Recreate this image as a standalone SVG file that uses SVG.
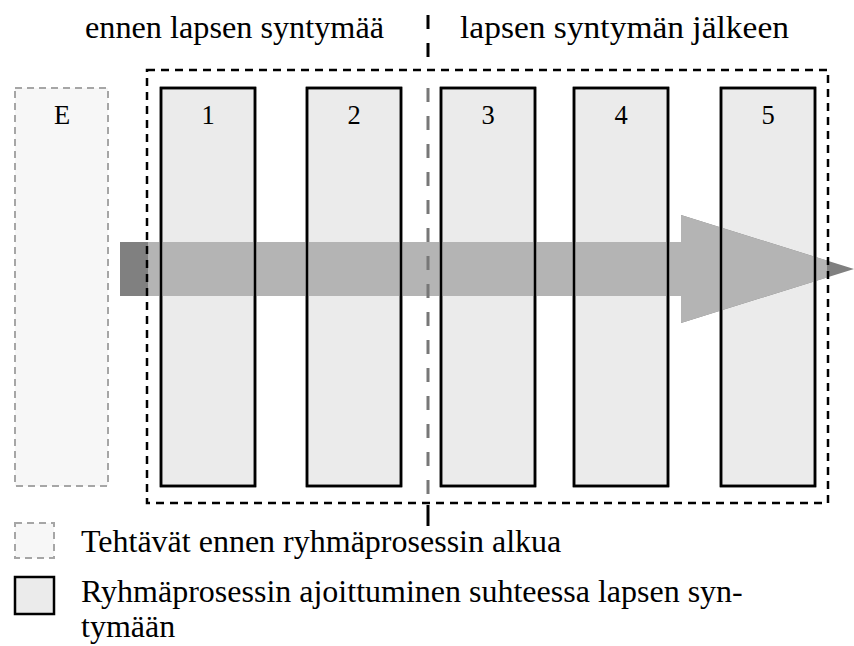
<svg xmlns="http://www.w3.org/2000/svg" width="854" height="646" viewBox="0 0 854 646">
<style>
.t{font-family:"Liberation Serif","Times New Roman",serif;fill:#000}
.hdr{font-size:32.5px}
.num{font-size:26.5px;text-anchor:middle}
.leg{font-size:32px}
.phase{fill:#ebebeb;stroke:#000;stroke-width:2.5}
.pre{fill:#f7f7f7;stroke:#a6a6a6;stroke-width:2;stroke-dasharray:7,5}
</style>
<defs>
<clipPath id="inner"><rect x="148" y="71" width="679" height="431"/></clipPath>
</defs>
<rect width="854" height="646" fill="#fff"/>
<g font-family="Liberation Serif, Times New Roman, serif">
<text class="t hdr" x="85" y="38" textLength="299" lengthAdjust="spacingAndGlyphs">ennen lapsen syntymää</text>
<text class="t hdr" x="460" y="38" textLength="329" lengthAdjust="spacingAndGlyphs">lapsen syntymän jälkeen</text>
</g>
<g id="node-E" font-family="Liberation Serif, Times New Roman, serif"><rect class="pre" x="15" y="88" width="93" height="398"/><text class="t num" x="62" y="124">E</text></g>
<g id="node-1" font-family="Liberation Serif, Times New Roman, serif"><rect class="phase" x="161" y="88" width="94" height="398"/><text class="t num" x="208" y="124">1</text></g>
<g id="node-2" font-family="Liberation Serif, Times New Roman, serif"><rect class="phase" x="307" y="88" width="94" height="398"/><text class="t num" x="354" y="124">2</text></g>
<g id="node-3" font-family="Liberation Serif, Times New Roman, serif"><rect class="phase" x="441" y="88" width="94" height="398"/><text class="t num" x="488" y="124">3</text></g>
<g id="node-4" font-family="Liberation Serif, Times New Roman, serif"><rect class="phase" x="574" y="88" width="94" height="398"/><text class="t num" x="621" y="124">4</text></g>
<g id="node-5" font-family="Liberation Serif, Times New Roman, serif"><rect class="phase" x="721" y="88" width="94" height="398"/><text class="t num" x="768" y="124">5</text></g>
<g id="connectors">
<polygon points="120,242 681,242 681,215 854,269 681,323 681,296 120,296" fill="#808080"/>
<polygon points="120,242 681,242 681,215 854,269 681,323 681,296 120,296" fill="#b4b4b4" clip-path="url(#inner)"/>
<g fill="none" stroke="#000" stroke-width="2.5">
<rect x="161" y="88" width="94" height="398"/><rect x="307" y="88" width="94" height="398"/><rect x="441" y="88" width="94" height="398"/><rect x="574" y="88" width="94" height="398"/><rect x="721" y="88" width="94" height="398"/>
</g>
<rect x="147" y="70" width="681" height="433" fill="none" stroke="#000" stroke-width="2.5" stroke-dasharray="8,6"/>
<line x1="428" y1="15" x2="428" y2="70" stroke="#000" stroke-width="3" stroke-dasharray="14,14"/>
<line x1="428" y1="88" x2="428" y2="502" stroke="#777" stroke-width="3" stroke-dasharray="14,14"/>
<line x1="428" y1="505" x2="428" y2="526" stroke="#000" stroke-width="3"/>
</g>
<g id="legend" font-family="Liberation Serif, Times New Roman, serif">
<rect class="pre" x="15" y="523" width="39" height="35"/>
<rect class="phase" x="15" y="577" width="39" height="37"/>
<text class="t leg" x="81" y="552">Tehtävät ennen ryhmäprosessin alkua</text>
<text class="t leg" x="81" y="602">Ryhmäprosessin ajoittuminen suhteessa lapsen syn-</text>
<text class="t leg" x="81" y="637">tymään</text>
</g>
</svg>
